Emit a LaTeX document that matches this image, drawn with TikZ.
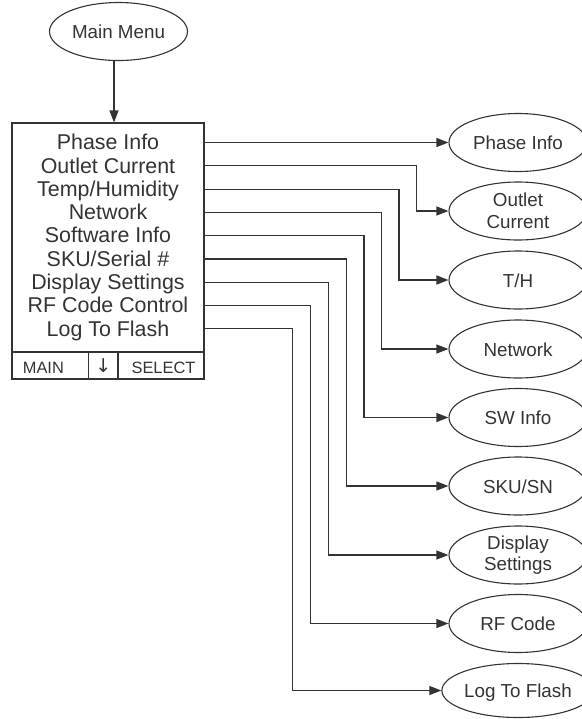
\documentclass[tikz,border=0pt]{standalone}
\usepackage{fontspec}
\setmainfont{Liberation Sans}
\newfontfamily\arrowfont{DejaVu Sans}
\usetikzlibrary{arrows.meta,shapes.geometric,calc}
\definecolor{ink}{HTML}{333333}
\definecolor{linec}{HTML}{333333}
\tikzset{
  oval/.style={ellipse, draw=linec, line width=0.55pt, minimum width=69pt, minimum height=29pt, inner sep=0pt, text=ink, align=center, font=\fontsize{9.4}{10.8}\selectfont},
  oneline/.style={text height=0.72em, text depth=0pt},
  menubox/.style={rectangle, draw=linec, line width=0.55pt, minimum width=96pt, minimum height=128pt, inner sep=0pt},
  item/.style={text=ink, inner sep=0pt, text height=0.72em, text depth=0pt, font=\fontsize{10.7}{11.6}\selectfont},
  keytxt/.style={text=ink, inner sep=0pt, text height=0.72em, text depth=0pt, font=\fontsize{8.2}{9}\selectfont},
  conn/.style={draw=linec, line width=0.55pt, -{Triangle[length=6pt,width=4.5pt]}},
  wire/.style={draw=linec, line width=0.55pt}
}
\begin{document}
\begin{tikzpicture}[x=0.5pt,y=-0.5pt]
\useasboundingbox (0,0) rectangle (582,719);
\clip (0,0) rectangle (582,719);
% main menu
\node[oval, oneline] (mm) at (118.5,31.5) {Main Menu};
% menu box
\node[menubox] (box) at (108,251) {};
\coordinate (divl) at (12,352);
\coordinate (divr) at (204,352);
\draw[wire] (divl) -- (divr);
\coordinate (d1t) at (88.7,352);
\coordinate (d2t) at (118,352);
\draw[wire] (d1t) -- (d1t |- box.south);
\draw[wire] (d2t) -- (d2t |- box.south);
\node[keytxt, anchor=west] (kmain) at (22.5,366) {MAIN};
\node[text=ink, inner sep=0pt, font=\arrowfont\fontsize{9.5}{10}\selectfont] (kdown) at (103.4,366) {↓};
\node[keytxt] (ksel) at (163.5,366) {SELECT};
% arrow from main menu
\coordinate (mmx) at (114,0);
\draw[conn] (mm.south -| mmx) -- (box.north -| mmx);
% menu items
\foreach \t [count=\i] in {Phase Info,Outlet Current,Temp/Humidity,Network,Software Info,SKU/Serial \#,Display Settings,RF Code Control,Log To Flash}{
  \node[item] (m\i) at (108,{142.5+23.3*(\i-1)}) {\t};
}
% right ovals
\node[oval, oneline] (e1) at (518,142.5) {Phase Info};
\node[oval] (e2) at (518,211) {Outlet\\Current};
\node[oval, oneline] (e3) at (518,280) {T/H};
\node[oval, oneline] (e4) at (518,349) {Network};
\node[oval, oneline] (e5) at (518,417.5) {SW Info};
\node[oval, oneline] (e6) at (518,486) {SKU/SN};
\node[oval] (e7) at (518,555) {Display\\Settings};
\node[oval, oneline] (e8) at (518,623.5) {RF Code};
\node[oval, oneline, minimum height=27pt] (e9) at (518,690.5) {Log To Flash};
% vertical run positions
\coordinate (v2) at (416.5,0);
\coordinate (v3) at (399,0);
\coordinate (v4) at (381.5,0);
\coordinate (v5) at (364,0);
\coordinate (v6) at (346.5,0);
\coordinate (v7) at (328.5,0);
\coordinate (v8) at (310.5,0);
\coordinate (v9) at (292.5,0);
% connectors
\draw[conn] (box.east |- e1.west) -- (e1.west);
\foreach \i in {2,...,9}{
  \draw[conn] (box.east |- m\i) -| (v\i |- e\i.west) -- (e\i.west);
}
\end{tikzpicture}
\end{document}
